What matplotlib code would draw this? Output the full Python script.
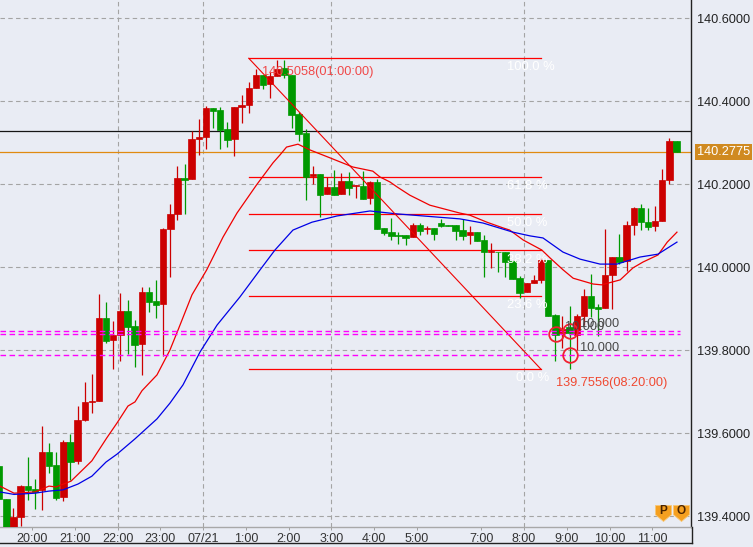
import matplotlib
matplotlib.use("Agg")
import matplotlib.pyplot as plt
from matplotlib.lines import Line2D

plt.rcParams["font.family"] = ["Liberation Sans", "DejaVu Sans"]

# candles, one per 10 minutes
opens = [139.520, 139.441, 139.360, 139.398, 139.472, 139.465, 139.463, 139.554, 139.523, 139.446,
         139.578, 139.533, 139.631, 139.675, 139.678, 139.877, 139.824, 139.836, 139.894, 139.858,
         139.814, 139.940, 139.918, 139.911, 140.092, 140.128, 140.214, 140.212, 140.308, 140.313,
         140.383, 140.378, 140.333, 140.308, 140.386, 140.390, 140.431, 140.463, 140.441, 140.460,
         140.480, 140.463, 140.369, 140.323, 140.219, 140.224, 140.176, 140.193, 140.176, 140.207,
         140.195, 140.195, 140.166, 140.205, 140.094, 140.084, 140.077, 140.077, 140.072, 140.101,
         140.092, 140.094, 140.106, 140.101, 140.101, 140.089, 140.078, 140.084, 140.065, 140.035,
         140.037, 140.037, 140.014, 139.973, 139.940, 139.961, 139.969, 140.017, 139.884, 139.841,
         139.855, 139.836, 139.882, 139.930, 139.904, 139.901, 139.981, 140.024, 140.014, 140.101,
         140.142, 140.108, 140.099, 140.111, 140.210, 140.304]
highs = [139.520, 139.441, 139.419, 139.475, 139.542, 139.489, 139.617, 139.576, 139.554, 139.583,
         139.598, 139.665, 139.723, 139.742, 139.935, 139.916, 139.870, 139.937, 139.920, 139.872,
         139.952, 139.952, 139.969, 140.094, 140.152, 140.243, 140.248, 140.328, 140.357, 140.388,
         140.383, 140.386, 140.349, 140.386, 140.414, 140.446, 140.477, 140.463, 140.470, 140.499,
         140.499, 140.463, 140.373, 140.333, 140.243, 140.224, 140.217, 140.234, 140.227, 140.229,
         140.198, 140.231, 140.207, 140.212, 140.094, 140.118, 140.084, 140.077, 140.106, 140.107,
         140.099, 140.094, 140.116, 140.101, 140.101, 140.116, 140.099, 140.084, 140.077, 140.058,
         140.037, 140.037, 140.017, 139.978, 139.961, 139.981, 140.022, 140.017, 139.887, 139.882,
         139.906, 139.887, 139.947, 139.983, 139.911, 140.092, 140.024, 140.080, 140.111, 140.145,
         140.152, 140.142, 140.147, 140.236, 140.311, 140.304]
lows = [139.441, 139.370, 139.360, 139.376, 139.439, 139.418, 139.414, 139.504, 139.439, 139.437,
        139.487, 139.525, 139.629, 139.648, 139.677, 139.817, 139.754, 139.773, 139.790, 139.759,
        139.740, 139.892, 139.877, 139.786, 139.976, 140.113, 140.128, 140.211, 140.270, 140.284,
        140.335, 140.284, 140.289, 140.267, 140.347, 140.371, 140.431, 140.429, 140.407, 140.460,
        140.455, 140.335, 140.304, 140.161, 140.200, 140.120, 140.176, 140.173, 140.176, 140.173,
        140.166, 140.164, 140.152, 140.092, 140.077, 140.065, 140.055, 140.053, 140.072, 140.077,
        140.080, 140.065, 140.096, 140.100, 140.065, 140.065, 140.055, 140.063, 139.976, 139.998,
        139.988, 139.976, 139.971, 139.925, 139.940, 139.961, 139.961, 139.882, 139.773, 139.805,
        139.754, 139.800, 139.860, 139.880, 139.834, 139.901, 139.899, 140.007, 139.990, 140.077,
        140.089, 140.089, 140.087, 140.111, 140.200, 140.2775]
closes = [139.441, 139.373, 139.398, 139.472, 139.463, 139.458, 139.554, 139.521, 139.444, 139.578,
          139.531, 139.631, 139.675, 139.677, 139.877, 139.822, 139.836, 139.894, 139.855, 139.812,
          139.940, 139.916, 139.908, 140.092, 140.128, 140.214, 140.210, 140.308, 140.313, 140.383,
          140.376, 140.330, 140.306, 140.386, 140.390, 140.431, 140.463, 140.439, 140.460, 140.477,
          140.463, 140.366, 140.320, 140.217, 140.224, 140.173, 140.193, 140.173, 140.207, 140.190,
          140.198, 140.164, 140.205, 140.092, 140.082, 140.075, 140.075, 140.070, 140.101, 140.087,
          140.094, 140.080, 140.100, 140.100, 140.087, 140.075, 140.084, 140.063, 140.036, 140.039,
          140.035, 140.012, 139.971, 139.937, 139.961, 139.969, 140.017, 139.882, 139.836, 139.851,
          139.841, 139.882, 139.930, 139.901, 139.899, 139.981, 140.024, 140.012, 140.101, 140.142,
          140.108, 140.096, 140.111, 140.210, 140.304, 140.2775]

# moving averages
red_x = [0.11, 2.08, 5.02, 6.98, 7.97, 10.07, 13.0, 15.08, 16.52, 18.06, 19.05, 20.03, 22.13, 23.95,
         25.08, 27.04, 29.1, 31.39, 33.35, 36.1, 38.4, 39.38, 40.3, 41.9, 43.6, 46.4, 49.6, 52.4, 53.4,
         54.8, 55.8, 57.6, 60.4, 64.6, 66.0, 68.4, 70.7, 71.6, 73.5, 76.1, 77.25, 79.1, 80.5, 83.3,
         84.5, 87.1, 88.9, 90.3, 92.4, 93.7, 95.06]
red_y = [139.472, 139.455, 139.458, 139.472, 139.470, 139.484, 139.533, 139.588, 139.624, 139.665,
         139.675, 139.702, 139.740, 139.800, 139.848, 139.933, 139.993, 140.072, 140.130, 140.198,
         140.251, 140.270, 140.289, 140.296, 140.282, 140.263, 140.241, 140.231, 140.217, 140.205,
         140.193, 140.173, 140.149, 140.130, 140.125, 140.108, 140.094, 140.089, 140.065, 140.041,
         140.022, 139.993, 139.973, 139.959, 139.957, 139.969, 139.998, 140.012, 140.029, 140.060,
         140.084]
blue_x = [0.11, 2.08, 5.02, 6.98, 8.95, 11.05, 13.0, 14.98, 16.52, 19.05, 22.13, 23.95, 25.78, 28.16,
          30.55, 33.77, 36.58, 38.68, 41.2, 43.87, 47.38, 52.0, 55.8, 64.6, 67.85, 72.06, 74.45,
          76.27, 79.07, 81.46, 84.27, 86.65, 89.87, 92.4, 95.06]
blue_y = [139.458, 139.452, 139.455, 139.460, 139.463, 139.477, 139.496, 139.530, 139.549, 139.586,
          139.634, 139.672, 139.716, 139.795, 139.860, 139.928, 139.993, 140.041, 140.089, 140.108,
          140.123, 140.135, 140.128, 140.116, 140.106, 140.084, 140.075, 140.070, 140.036, 140.019,
          140.007, 140.007, 140.024, 140.031, 140.060]

# fibonacci retracement
fib_start, fib_end = 35.0, 76.0
fib_high, fib_low = 140.503, 139.7535
fib_ratios = [1.0, 0.618, 0.5, 0.382, 0.236, 0.0]
fib_labels = ["100.0 %", "61.8 %", "50.0 %", "38.2 %", "23.6 %", "0.0 %"]
fib_label_x = [71.2, 71.2, 71.2, 71.2, 71.2, 72.5]
fib_label_y = [140.482, 140.195, 140.106, 140.017, 139.908, 139.733]

price_ticks = [139.4, 139.6, 139.8, 140.0, 140.2, 140.4, 140.6]
time_pos = [4.6, 10.6, 16.6, 22.6, 28.6, 34.6, 40.6, 46.6, 52.6, 58.6, 67.6, 73.6, 79.6, 85.6, 91.6]
time_labels = ["20:00", "21:00", "22:00", "23:00", "07/21", "1:00", "2:00", "3:00", "4:00", "5:00",
               "7:00", "8:00", "9:00", "10:00", "11:00"]
vgrid_pos = [16.6, 28.6, 46.6, 73.6]

black_level = 140.328
last_price = 140.2775
magenta_levels = [139.845, 139.839, 139.788]
circle_x = [78.05, 80.05, 80.05]
circle_y = [139.839, 139.846, 139.788]
order_x = [81.46, 79.35, 81.46]
order_y = [139.863, 139.855, 139.805]

bg = "#E9ECF4"
up_col = "#CC0000"
down_col = "#009900"
grid_dash = (0, (4, 3))

fig = plt.figure(figsize=(7.53, 5.47), dpi=100, facecolor=bg)
ax = fig.add_axes([0, 20 / 547, 691 / 753, 527 / 547], facecolor=bg)
ax.set_xlim(0.112, 97.03)
ax.set_ylim(139.3735, 140.6434)

for p in price_ticks:
    ax.axhline(p, color="#A4A4A4", lw=0.8, ls=grid_dash, zorder=1)
for x in vgrid_pos:
    ax.axvline(x, color="#A4A4A4", lw=0.8, ls=grid_dash, zorder=1)

ax.axhline(black_level, color="#151515", lw=0.9, zorder=2)
ax.axhline(last_price, color="#E08A10", lw=0.9, zorder=2)

# fibonacci lines sit under the candles, the diagonal goes over them
for r in fib_ratios:
    level = fib_low + (fib_high - fib_low) * r
    ax.plot([fib_start, fib_end], [level, level], color="#FF0000", lw=0.9, zorder=2)
ax.plot([fib_start, fib_end], [fib_high, fib_low], color="#F00000", lw=0.8, zorder=6)

for i in range(len(opens)):
    col = up_col if closes[i] >= opens[i] else down_col
    ax.plot([i, i], [lows[i], highs[i]], color=col, lw=0.9, zorder=3, solid_capstyle="butt")
    ax.bar(i, abs(closes[i] - opens[i]), bottom=min(opens[i], closes[i]), width=0.9,
           color=col, edgecolor=col, linewidth=0.5, zorder=4)

ax.plot(red_x, red_y, color="#F00000", lw=0.9, zorder=5)
ax.plot(blue_x, blue_y, color="#0000E6", lw=0.9, zorder=5)

for p in magenta_levels:
    ax.plot([0.112, 95.5], [p, p], color="#FF00FF", lw=1.0, ls=(0, (4, 2.5)), zorder=6)

ax.plot(circle_x, circle_y, ls="none", marker="o", ms=10.5, mfc="none", mec="#F02030", mew=1.3, zorder=7)

for label, lx, ly in zip(fib_labels, fib_label_x, fib_label_y):
    ax.text(lx, ly, label, color="white", fontsize=9.4, va="center", ha="left", zorder=8)

ax.text(36.86, 140.470, "140.5058(01:00:00)", color="#F04848", fontsize=9.2, va="center", zorder=8)
ax.text(78.1, 139.720, "139.7556(08:20:00)", color="#F04830", fontsize=9.2, va="center", zorder=8)
for ox, oy in zip(order_x, order_y):
    ax.text(ox, oy, "10.000", color="#484848", fontsize=9.2, va="center", zorder=8)

# P and O badges
badge = [(-1, 1), (1, 1), (1, -0.15), (0, -1), (-1, -0.15), (-1, 1)]
for bx, letter in zip([93.06, 95.58], ["P", "O"]):
    ax.plot([bx], [139.407], marker=badge, ms=11.5, mfc="#F5A020", mec="#F8C878", mew=0.6,
            ls="none", zorder=9)
    ax.text(bx, 139.411, letter, color="#4A2400", fontsize=8.5, fontweight="bold",
            ha="center", va="center", zorder=10)

ax.yaxis.tick_right()
ax.set_yticks(price_ticks)
ax.set_yticklabels([f"{p:.4f}" for p in price_ticks])
ax.tick_params(axis="y", length=0, pad=4, labelsize=9.2, labelcolor="#222222")
ax.set_xticks(time_pos)
ax.set_xticklabels(time_labels)
ax.tick_params(axis="x", length=2.2, width=0.7, color="#A0A0A0", pad=2, labelsize=9, labelcolor="#333333")

ax.spines["top"].set_visible(False)
ax.spines["left"].set_visible(False)
ax.spines["bottom"].set_color("#A8A8A8")
ax.spines["bottom"].set_linewidth(1.0)
ax.spines["right"].set_color("#222222")
ax.spines["right"].set_linewidth(1.0)

# box on the price axis with the last price
ax.text(1 + 6 / 691, last_price, f"{last_price:.4f}", transform=ax.get_yaxis_transform(), color="white",
        fontsize=9.2, va="center", ha="left", clip_on=False,
        bbox=dict(facecolor="#D08A20", edgecolor="none", pad=1.2))

# frame below the time axis
fig.add_artist(Line2D([0, 691.5 / 753], [4 / 547, 4 / 547], color="#222222", lw=1.0))
fig.add_artist(Line2D([691.5 / 753, 691.5 / 753], [4 / 547, 20 / 547], color="#222222", lw=1.0))

fig.savefig("out.png", dpi=100, facecolor=bg)
